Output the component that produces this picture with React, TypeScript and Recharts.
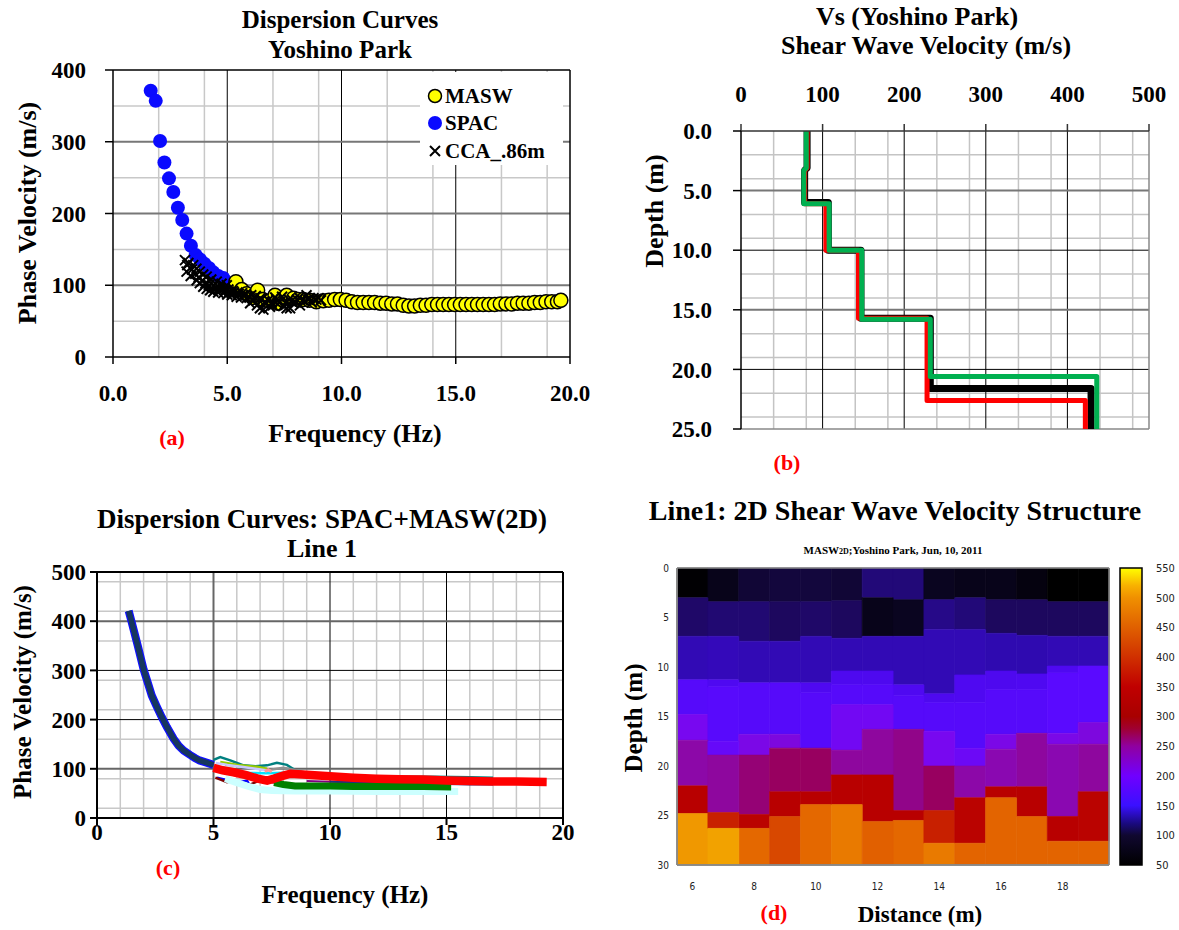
import React from 'react';
import {
    ScatterChart,
    Scatter,
    LineChart,
    Line,
    BarChart,
    Bar,
    Cell,
    XAxis,
    YAxis,
    CartesianGrid,
    ReferenceLine,
} from 'recharts';

const serif = "'Liberation Serif', 'Times New Roman', serif";
const narrow = "'DejaVu Sans Condensed', 'DejaVu Sans', sans-serif";

// ---------- (a) dispersion curves, Yoshino Park ----------
const spacA: [number, number][] = [
    [1.65, 371], [1.87, 357], [2.06, 301], [2.25, 271], [2.45, 249], [2.64, 230], [2.84, 208],
    [3.03, 191], [3.22, 172], [3.41, 155], [3.62, 142], [3.81, 136], [4.0, 130], [4.2, 124],
    [4.39, 118], [4.61, 113], [4.83, 110],
];
const maswA: [number, number][] = [
    [5.38, 105], [5.63, 94], [5.85, 88], [6.1, 83], [6.33, 93], [6.55, 80], [6.8, 78], [7.09, 86],
    [7.23, 75], [7.4, 80], [7.6, 86], [7.9, 82], [8.1, 80], [8.33, 80], [8.6, 79], [8.9, 77],
    [9.2, 78.5], [9.45, 79], [9.7, 80], [9.95, 80], [10.2, 79], [10.45, 77], [10.7, 76], [10.95, 76],
    [11.2, 76], [11.45, 76], [11.7, 75], [11.95, 75], [12.2, 74], [12.45, 74], [12.7, 72], [12.95, 71],
    [13.2, 71], [13.45, 72], [13.7, 72], [13.95, 73], [14.2, 73], [14.45, 73], [14.7, 73], [14.95, 73],
    [15.2, 73], [15.45, 73], [15.7, 73], [15.95, 73], [16.2, 73], [16.45, 73], [16.7, 73], [16.95, 74],
    [17.2, 74], [17.45, 74], [17.7, 75], [17.95, 75], [18.2, 75], [18.45, 76], [18.7, 76], [18.95, 77],
    [19.2, 77], [19.45, 77], [19.6, 79],
];
const ccaA: [number, number][] = [
    [3.15, 135], [3.3, 131], [3.51, 128], [3.65, 123], [3.8, 119], [3.95, 115], [4.1, 112], [4.3, 108],
    [4.54, 105], [4.75, 102], [4.98, 100], [3.22, 119], [3.4, 113], [3.66, 107], [3.8, 103], [3.95, 98],
    [4.1, 95], [4.25, 93], [4.39, 91], [4.6, 90], [4.83, 89], [5.0, 87], [5.2, 86], [5.41, 84],
    [5.6, 83], [5.85, 82], [6.0, 75], [6.15, 79], [6.3, 72], [6.43, 68], [6.58, 66], [6.7, 74],
    [6.87, 70], [7.0, 72], [7.15, 80], [7.31, 77], [7.45, 71], [7.6, 68], [7.75, 68], [7.9, 75],
    [8.05, 80], [8.18, 72], [8.3, 79], [8.47, 86], [8.6, 82], [8.77, 82], [8.9, 80], [4.5, 97],
    [4.7, 95], [4.9, 93], [5.1, 91], [5.3, 90], [5.5, 88], [5.7, 86], [5.95, 84], [6.2, 83],
    [6.5, 80], [6.8, 79], [7.1, 83], [7.4, 84], [7.7, 80], [8.0, 76], [8.4, 78],
    [3.25, 128], [3.45, 122], [3.6, 116], [3.75, 111], [3.9, 106], [4.05, 103], [4.2, 100], [4.4, 99],
    [4.65, 96], [4.85, 95], [5.05, 94], [5.25, 92], [5.45, 90], [5.65, 89], [5.8, 87], [6.05, 86],
    [6.25, 85], [6.45, 82], [6.65, 77], [6.95, 76], [7.2, 74], [7.55, 76], [7.85, 79], [8.15, 83],
    [8.55, 80], [8.7, 76], [9.0, 82], [9.1, 79],
];
const freqTicksA = [0, 5, 10, 15, 20];
const velTicksA = [0, 100, 200, 300, 400];

// ---------- (b) Vs profiles ----------
const blackVs: [number, number][] = [
    [81, 0], [81, 3.1], [78, 3.3], [78, 6.0], [107, 6.0], [107, 10], [147, 10], [147, 15.7],
    [232, 15.7], [232, 21.6], [429, 21.6], [429, 25],
];
const redVs: [number, number][] = [
    [81, 0], [81, 3.1], [78, 3.3], [78, 6.1], [104, 6.1], [104, 10], [144, 10], [144, 15.7],
    [228, 15.7], [228, 22.6], [422, 22.6], [422, 25],
];
const greenVs: [number, number][] = [
    [80, 0], [80, 3.1], [77, 3.3], [77, 6.1], [108, 6.1], [108, 10], [148, 10], [148, 15.8],
    [232, 15.8], [232, 20.6], [436, 20.6], [436, 25],
];
const vsTicks = [0, 100, 200, 300, 400, 500];
const depthTicksB = [0, 5, 10, 15, 20, 25];

// ---------- (c) SPAC + MASW(2D) line 1 ----------
const spacC: [number, number][] = [
    [1.36, 421], [1.45, 405], [1.57, 383], [1.75, 350], [2.0, 302], [2.2, 272], [2.35, 249],
    [2.55, 228], [2.78, 205], [3.0, 185], [3.29, 161], [3.5, 147], [3.72, 137], [4.0, 128],
    [4.2, 122], [4.4, 117], [4.6, 114], [4.8, 111], [5.0, 108],
];
const redC: [number, number][] = [
    [5.0, 102], [5.4, 97], [5.86, 93], [6.4, 87], [6.9, 80], [7.3, 76], [7.6, 80], [8.0, 86],
    [8.3, 90], [9, 88], [10, 85], [11, 82], [12, 80], [13, 79], [14, 78], [15, 76], [16, 75],
    [17, 74], [18, 74], [19.3, 73],
];
const greenC: [number, number][] = [
    [7.6, 72], [8.0, 68], [8.5, 65], [9.0, 65], [10, 65], [11, 64], [12, 64], [13, 64], [14, 64], [15.2, 63],
];
const lightCyanC: [number, number][] = [
    [5.5, 80], [6.0, 72], [6.5, 64], [7.0, 58], [7.5, 56], [8.5, 55], [10, 55], [12, 54], [14, 54], [15.5, 54],
];
const tealC: [number, number][] = [
    [5.0, 118], [5.29, 124], [5.72, 117], [6.29, 107], [6.8, 105], [7.3, 107], [7.72, 112], [8.15, 108],
    [8.58, 95], [9.2, 90], [10.15, 86], [11.5, 84], [13, 84], [14.5, 84], [16, 83], [17, 82],
];
const grayC: [number, number][] = [[5.5, 108], [6.0, 106], [6.58, 103], [7.3, 97], [8.0, 102], [8.44, 98], [9.0, 92], [10, 87]];
const yellowGreenC: [number, number][] = [[5.29, 114], [5.8, 110], [6.15, 107], [6.87, 104], [7.3, 100]];
const cyanC: [number, number][] = [[5.5, 96], [5.86, 94], [6.5, 92], [7.3, 91], [8.0, 92], [8.44, 90], [9, 88]];
const lavenderC: [number, number][] = [[5.1, 112], [5.6, 108], [6.2, 104], [6.8, 100], [7.4, 96]];
const pinkC: [number, number][] = [[7.2, 95], [7.35, 98], [7.5, 94]];
const blueC: [number, number][] = [[5.15, 82], [5.5, 78], [5.72, 77], [6.15, 73], [6.44, 76], [6.58, 64]];
const brownC: [number, number][] = [
    [5.08, 82], [5.3, 78], [5.58, 73], [5.86, 76], [6.15, 70], [6.58, 68], [7.0, 77], [7.44, 73], [7.87, 71],
];
const purpleC: [number, number][] = [[9, 75], [11, 72], [13, 70], [15, 70], [16.5, 70]];
const darkGreenC: [number, number][] = [[14, 72], [15, 76], [16, 78], [17, 77]];
const navyC: [number, number][] = [[10, 74], [12, 72], [14, 70], [16, 68], [17, 68]];
const freqTicksC = [0, 5, 10, 15, 20];
const velTicksC = [0, 100, 200, 300, 400, 500];

// ---------- (d) 2D Vs section ----------
const distances = [6, 7, 8, 9, 10, 11, 12, 13, 14, 15, 16, 17, 18, 19];
const layerBottoms: number[][] = [
    [3.0, 6.9, 11.3, 14.8, 17.4, 22.0, 24.8, 30],
    [3.4, 6.9, 11.3, 12.0, 17.5, 18.9, 24.7, 26.3, 30],
    [3.4, 7.4, 11.6, 16.8, 18.9, 24.9, 26.3, 30],
    [3.4, 7.4, 11.6, 16.8, 18.2, 22.6, 25.1, 30],
    [3.4, 6.9, 11.6, 12.6, 18.2, 22.6, 23.9, 30],
    [3.3, 7.1, 10.4, 11.8, 13.8, 18.4, 20.9, 23.9, 30],
    [3.0, 6.9, 10.4, 11.8, 13.8, 16.3, 20.9, 25.6, 30],
    [3.2, 6.9, 11.8, 12.9, 16.3, 24.5, 25.5, 30],
    [3.2, 6.2, 12.7, 13.6, 16.5, 20.0, 24.5, 27.8, 30],
    [3.0, 6.2, 10.8, 13.6, 18.2, 20.0, 23.2, 27.8, 30],
    [3.2, 6.6, 10.4, 12.3, 16.8, 18.3, 22.1, 23.2, 30],
    [3.2, 6.8, 10.7, 12.3, 16.7, 22.1, 25.1, 30],
    [3.4, 6.9, 9.9, 10.6, 16.7, 17.8, 25.1, 27.6, 30],
    [3.4, 6.9, 9.9, 15.6, 17.8, 22.6, 27.6, 30],
];
const layerVs: number[][] = [
    [52, 105, 130, 170, 200, 240, 330, 500],
    [70, 108, 132, 160, 172, 185, 245, 380, 505],
    [85, 108, 130, 170, 205, 265, 335, 460],
    [88, 102, 130, 170, 210, 275, 330, 420],
    [88, 105, 130, 160, 170, 275, 330, 460],
    [85, 102, 130, 158, 170, 195, 245, 330, 475],
    [110, 70, 130, 158, 170, 195, 245, 330, 450],
    [110, 75, 130, 160, 170, 255, 330, 460],
    [75, 115, 130, 158, 170, 200, 275, 380, 475],
    [70, 110, 130, 160, 170, 190, 240, 335, 455],
    [70, 102, 128, 158, 170, 205, 235, 330, 455],
    [62, 102, 128, 160, 170, 245, 330, 455],
    [50, 102, 130, 160, 175, 205, 235, 330, 455],
    [50, 102, 130, 175, 210, 245, 335, 455],
];
const depthTicksD = [0, 5, 10, 15, 20, 25, 30];
const cbTicks = [50, 100, 150, 200, 250, 300, 350, 400, 450, 500, 550];
const cbValues = [50, 75, 100, 125, 150, 175, 200, 240, 275, 300, 330, 380, 420, 460, 500, 550];
const cbColors = [
    '#000000', '#0a0520', '#1c0858', '#2c0aa8', '#4808e8', '#5a0aff', '#7808f0', '#8c08a8',
    '#980060', '#a80010', '#b80000', '#c82000', '#d84800', '#e46800', '#f09800', '#ffff00',
];

const toPts = (arr: [number, number][]) => arr.map(([f, v]) => ({ f, v }));
const toProfile = (arr: [number, number][]) => arr.map(([v, d]) => ({ v, d }));

function hexToRgb(h: string) {
    return [parseInt(h.slice(1, 3), 16), parseInt(h.slice(3, 5), 16), parseInt(h.slice(5, 7), 16)];
}

function vsColor(v: number) {
    if (v <= cbValues[0]) return cbColors[0];
    for (let i = 1; i < cbValues.length; i++) {
        if (v <= cbValues[i]) {
            const t = (v - cbValues[i - 1]) / (cbValues[i] - cbValues[i - 1]);
            const a = hexToRgb(cbColors[i - 1]);
            const b = hexToRgb(cbColors[i]);
            const c = a.map((x, k) => Math.round(x + (b[k] - x) * t));
            return `rgb(${c[0]},${c[1]},${c[2]})`;
        }
    }
    return cbColors[cbColors.length - 1];
}

const MAX_LAYERS = 9;
const sectionRows = distances.map((x, i) => {
    const row: Record<string, number> = { x };
    let prev = 0;
    for (let k = 0; k < MAX_LAYERS; k++) {
        const bottom = layerBottoms[i][k];
        if (bottom === undefined) {
            row[`t${k}`] = 0;
            row[`v${k}`] = 50;
        } else {
            row[`t${k}`] = bottom - prev;
            row[`v${k}`] = layerVs[i][k];
            prev = bottom;
        }
    }
    return row;
});

// grid positions that are not on a major line
const range = (a: number, b: number, step: number, skip: number) => {
    const out: number[] = [];
    for (let v = a; v <= b + 1e-9; v += step) {
        const r = Math.round(v * 100) / 100;
        if (Math.abs(r / skip - Math.round(r / skip)) > 1e-6) out.push(r);
    }
    return out;
};

const tickBold = (size: number) => ({ fill: '#000', fontSize: size, fontWeight: 700, fontFamily: serif });

function Txt({ x, y, size = 24, color = '#000', rotate = false, weight = 700, family = serif, children }: any) {
    return (
        <div
            style={{
                position: 'absolute',
                left: x,
                top: y,
                transform: `translate(-50%, -50%)${rotate ? ' rotate(-90deg)' : ''}`,
                fontFamily: family,
                fontWeight: weight,
                fontSize: size,
                color,
                whiteSpace: 'nowrap',
                lineHeight: 1,
            }}
        >
            {children}
        </div>
    );
}

const Circle = (fill: string, stroke?: string) => (p: any) => (
    <circle cx={p.cx} cy={p.cy} r={7} fill={fill} stroke={stroke || 'none'} strokeWidth={stroke ? 1.5 : 0} />
);

const Cross = (p: any) => (
    <path
        d={`M${p.cx - 5},${p.cy - 5}L${p.cx + 5},${p.cy + 5}M${p.cx - 5},${p.cy + 5}L${p.cx + 5},${p.cy - 5}`}
        stroke="#000"
        strokeWidth={2}
    />
);

function PanelA() {
    return (
        <div style={{ position: 'absolute', left: 0, top: 0 }}>
            <ScatterChart width={600} height={470} margin={{ top: 70, right: 30, bottom: 0, left: 0 }}>
                <CartesianGrid verticalValues={range(0, 20, 1, 5)} horizontalValues={[50, 150, 250, 350]} stroke="#c8c8c8" strokeWidth={1.5} />
                <CartesianGrid verticalValues={[5, 10, 15]} horizontal={false} stroke="#000" strokeWidth={1} />
                <CartesianGrid horizontalValues={[100, 200, 300]} vertical={false} stroke="#777" strokeWidth={2} />
                <XAxis type="number" dataKey="f" domain={[0, 20]} ticks={freqTicksA} tickFormatter={(v) => v.toFixed(1)}
                    height={113} tickSize={7} tickMargin={21} stroke="#000" strokeWidth={1.5} tick={tickBold(23)} />
                <YAxis type="number" dataKey="v" domain={[0, 400]} ticks={velTicksA} width={113} tickSize={8}
                    tickMargin={19} stroke="#000" strokeWidth={1.5} tick={tickBold(23)} />
                <ReferenceLine x={20} stroke="#000" strokeWidth={1.5} />
                <ReferenceLine y={400} stroke="#000" strokeWidth={1.5} />
                <Scatter data={toPts(spacA)} shape={Circle('#0a0aff')} isAnimationActive={false} />
                <Scatter data={toPts(maswA)} shape={Circle('#ffff00', '#000')} isAnimationActive={false} />
                <Scatter data={toPts(ccaA)} shape={Cross} isAnimationActive={false} />
            </ScatterChart>
            <div style={{ position: 'absolute', left: 420, top: 72, width: 143, height: 93, background: '#fff' }}>
                <svg width={143} height={93} style={{ position: 'absolute', left: 0, top: 0 }}>
                    <circle cx={15} cy={24} r={6.5} fill="#ffff00" stroke="#000" strokeWidth={1.5} />
                    <circle cx={15} cy={51} r={7} fill="#0a0aff" />
                    <path d="M10,74L20,84M10,84L20,74" stroke="#000" strokeWidth={2} />
                    <text x={25} y={31} fontFamily={serif} fontWeight={700} fontSize={21}>MASW</text>
                    <text x={25} y={58} fontFamily={serif} fontWeight={700} fontSize={21}>SPAC</text>
                    <text x={25} y={86} fontFamily={serif} fontWeight={700} fontSize={21}>CCA_.86m</text>
                </svg>
            </div>
        </div>
    );
}

function PanelB() {
    return (
        <div style={{ position: 'absolute', left: 600, top: 0 }}>
            <LineChart width={579} height={470} margin={{ top: 0, right: 30, bottom: 41, left: 0 }}>
                <CartesianGrid verticalValues={range(0, 500, 20, 100)} horizontalValues={range(0, 25, 1, 5)} stroke="#c4c4c4" strokeWidth={1.5} />
                <CartesianGrid verticalValues={[100, 200, 300, 400]} horizontal={false} stroke="#000" strokeWidth={1} />
                <CartesianGrid horizontalValues={[5, 15]} vertical={false} stroke="#777" strokeWidth={2} />
                <CartesianGrid horizontalValues={[10, 20]} vertical={false} stroke="#000" strokeWidth={1} />
                <XAxis type="number" dataKey="v" orientation="top" domain={[0, 500]} ticks={vsTicks} height={131}
                    tickSize={7} tickMargin={22} stroke="#333" strokeWidth={1.5} tick={tickBold(23)} />
                <YAxis type="number" domain={[0, 25]} reversed ticks={depthTicksB} tickFormatter={(v) => v.toFixed(1)}
                    width={141} tickSize={8} tickMargin={21} stroke="#000" strokeWidth={1.5} tick={tickBold(23)} />
                <ReferenceLine x={500} stroke="#888" strokeWidth={1.5} />
                <ReferenceLine y={25} stroke="#888" strokeWidth={1.5} />
                <Line data={toProfile(blackVs)} dataKey="d" stroke="#000" strokeWidth={7} dot={false} strokeLinejoin="round" isAnimationActive={false} />
                <Line data={toProfile(redVs)} dataKey="d" stroke="#ff0000" strokeWidth={5} dot={false} strokeLinejoin="round" isAnimationActive={false} />
                <Line data={toProfile(greenVs)} dataKey="d" stroke="#00b050" strokeWidth={5} dot={false} strokeLinejoin="round" isAnimationActive={false} />
            </LineChart>
        </div>
    );
}

function PanelC() {
    const thin: [string, [number, number][], number][] = [
        ['#008080', tealC, 2.5],
        ['#909090', grayC, 2.5],
        ['#99cc00', yellowGreenC, 2.5],
        ['#00e5ff', cyanC, 2.5],
        ['#c8c8ff', lavenderC, 2.5],
        ['#ff9999', pinkC, 3],
        ['#0000ff', blueC, 2.5],
        ['#800000', brownC, 2.5],
        ['#800080', purpleC, 2],
        ['#006400', darkGreenC, 2],
        ['#1f2f80', navyC, 2],
    ];
    return (
        <div style={{ position: 'absolute', left: 0, top: 470 }}>
            <LineChart width={600} height={460} margin={{ top: 102, right: 37, bottom: 0, left: 0 }}>
                <CartesianGrid verticalValues={range(0, 20, 1, 5)} horizontalValues={range(0, 500, 20, 100)} stroke="#c8c8c8" strokeWidth={1.5} />
                <CartesianGrid verticalValues={[5]} horizontal={false} stroke="#666" strokeWidth={2} />
                <CartesianGrid verticalValues={[10, 15]} horizontal={false} stroke="#000" strokeWidth={1} />
                <CartesianGrid horizontalValues={[100, 400]} vertical={false} stroke="#666" strokeWidth={2} />
                <CartesianGrid horizontalValues={[200, 300]} vertical={false} stroke="#000" strokeWidth={1} />
                <XAxis type="number" dataKey="f" domain={[0, 20]} ticks={freqTicksC} height={112} tickSize={7}
                    tickMargin={-1} stroke="#000" strokeWidth={2} tick={tickBold(23)} />
                <YAxis type="number" domain={[0, 500]} ticks={velTicksC} width={97} tickSize={7} tickMargin={4}
                    stroke="#000" strokeWidth={2} tick={tickBold(23)} />
                <ReferenceLine x={20} stroke="#000" strokeWidth={2} />
                <ReferenceLine y={500} stroke="#000" strokeWidth={2} />
                <Line data={toPts(spacC)} dataKey="v" stroke="#1010ff" strokeWidth={8} dot={false} isAnimationActive={false} />
                <Line data={toPts(spacC)} dataKey="v" stroke="#17375e" strokeWidth={5.5} dot={false} isAnimationActive={false} />
                {thin.map(([c, d, w], i) => (
                    <Line key={i} data={toPts(d)} dataKey="v" stroke={c} strokeWidth={w} dot={false} isAnimationActive={false} />
                ))}
                <Line data={toPts(lightCyanC)} dataKey="v" stroke="#ccffff" strokeWidth={7} dot={false} isAnimationActive={false} />
                <Line data={toPts(greenC)} dataKey="v" stroke="#008000" strokeWidth={7} dot={false} isAnimationActive={false} />
                <Line data={toPts(redC)} dataKey="v" stroke="#ff0000" strokeWidth={8.5} dot={false} isAnimationActive={false} />
            </LineChart>
        </div>
    );
}

function PanelD() {
    const tickN = { fill: '#222', fontSize: 10, fontFamily: narrow };
    return (
        <div style={{ position: 'absolute', left: 600, top: 470 }}>
            <BarChart width={579} height={460} data={sectionRows} barCategoryGap={0} barGap={0}
                margin={{ top: 98, right: 70, bottom: 0, left: 0 }}>
                {Array.from({ length: MAX_LAYERS }, (_, k) => (
                    <Bar key={k} dataKey={`t${k}`} stackId="s" isAnimationActive={false}>
                        {sectionRows.map((r, i) => (
                            <Cell key={i} fill={vsColor(r[`v${k}`])} stroke={vsColor(r[`v${k}`])} strokeWidth={0.6} />
                        ))}
                    </Bar>
                ))}
                <XAxis dataKey="x" interval={1} height={65} tickLine={false} tickSize={0} tickMargin={18}
                    stroke="#888" strokeWidth={1.5} tick={tickN} />
                <XAxis xAxisId="top" dataKey="x" orientation="top" mirror interval={1} tick={false} tickSize={5} stroke="#888" strokeWidth={1.5} />
                <XAxis xAxisId="bin" dataKey="x" mirror interval={1} tick={false} tickSize={5} stroke="#888" strokeWidth={1.5} />
                <YAxis type="number" domain={[0, 30]} reversed ticks={depthTicksD} width={77} tickLine={false}
                    tickSize={0} tickMargin={8} stroke="#888" strokeWidth={1.5} tick={tickN} />
                <YAxis yAxisId="lin" type="number" domain={[0, 30]} reversed ticks={depthTicksD} mirror tick={false} tickSize={5} stroke="#888" strokeWidth={1.5} />
                <YAxis yAxisId="rin" type="number" domain={[0, 30]} reversed ticks={depthTicksD} orientation="right" mirror tick={false} tickSize={5} stroke="#888" strokeWidth={1.5} />
            </BarChart>
        </div>
    );
}

function ColorBar() {
    const tickN = { fill: '#222', fontSize: 11, fontFamily: narrow };
    return (
        <div style={{ position: 'absolute', left: 1100, top: 470 }}>
            <BarChart width={79} height={460} data={[{ k: 'cb', r: [50, 550] }]} barCategoryGap={0}
                margin={{ top: 98, right: 0, bottom: 65, left: 20 }}>
                <defs>
                    <linearGradient id="cbg" x1="0" y1="0" x2="0" y2="1">
                        <stop offset="0%" stopColor="#ffff00" />
                        <stop offset="6%" stopColor="#f8b000" />
                        <stop offset="10%" stopColor="#f09000" />
                        <stop offset="20%" stopColor="#e06000" />
                        <stop offset="30%" stopColor="#d03000" />
                        <stop offset="40%" stopColor="#c00000" />
                        <stop offset="50%" stopColor="#a80000" />
                        <stop offset="54%" stopColor="#a00030" />
                        <stop offset="60%" stopColor="#9000a0" />
                        <stop offset="70%" stopColor="#7000ff" />
                        <stop offset="80%" stopColor="#3a10ff" />
                        <stop offset="86%" stopColor="#1a0a80" />
                        <stop offset="90%" stopColor="#100830" />
                        <stop offset="100%" stopColor="#000000" />
                    </linearGradient>
                </defs>
                <XAxis dataKey="k" hide />
                <YAxis type="number" domain={[50, 550]} ticks={cbTicks} orientation="right" width={37} tickLine={false}
                    tickSize={0} tickMargin={14} axisLine={false} tick={tickN} />
                <Bar dataKey="r" fill="url(#cbg)" stroke="#000" strokeWidth={1.5} isAnimationActive={false} />
                <YAxis yAxisId="l" type="number" domain={[50, 550]} ticks={cbTicks} mirror tick={false} tickSize={4} axisLine={false} stroke="#000" />
                <YAxis yAxisId="r" type="number" domain={[50, 550]} ticks={cbTicks} orientation="right" mirror tick={false} tickSize={4} axisLine={false} stroke="#000" />
            </BarChart>
        </div>
    );
}

export default function App() {
    return (
        <div style={{ position: 'absolute', left: 0, top: 0, width: 1179, height: 930, background: '#fff', overflow: 'hidden' }}>
            <PanelA />
            <PanelB />
            <PanelC />
            <PanelD />
            <ColorBar />

            <Txt x={340} y={19} size={25}>Dispersion Curves</Txt>
            <Txt x={340} y={49} size={25}>Yoshino Park</Txt>
            <Txt x={28} y={213} size={26} rotate>Phase Velocity (m/s)</Txt>
            <Txt x={355} y={434} size={26}>Frequency (Hz)</Txt>
            <Txt x={172} y={438} size={22} color="#ff0000">(a)</Txt>

            <Txt x={917} y={17} size={26}>Vs (Yoshino Park)</Txt>
            <Txt x={926} y={46} size={26}>Shear Wave Velocity (m/s)</Txt>
            <Txt x={655} y={211} size={26} rotate>Depth (m)</Txt>
            <Txt x={787} y={463} size={22} color="#ff0000">(b)</Txt>

            <Txt x={322} y={519} size={27}>Dispersion Curves: SPAC+MASW(2D)</Txt>
            <Txt x={322} y={549} size={26}>Line 1</Txt>
            <Txt x={22} y={692} size={25} rotate>Phase Velocity (m/s)</Txt>
            <Txt x={345} y={894} size={25}>Frequency (Hz)</Txt>
            <Txt x={168} y={868} size={22} color="#ff0000">(c)</Txt>

            <Txt x={895} y={511} size={28}>Line1: 2D Shear Wave Velocity Structure</Txt>
            <Txt x={893} y={550} size={11} weight={700}>
                MASW<span style={{ fontSize: 8 }}>2D</span>;Yoshino Park, Jun, 10, 2011
            </Txt>
            <Txt x={633} y={718} size={25} rotate>Depth (m)</Txt>
            <Txt x={920} y={914} size={23}>Distance (m)</Txt>
            <Txt x={774} y={913} size={22} color="#ff0000">(d)</Txt>
        </div>
    );
}
